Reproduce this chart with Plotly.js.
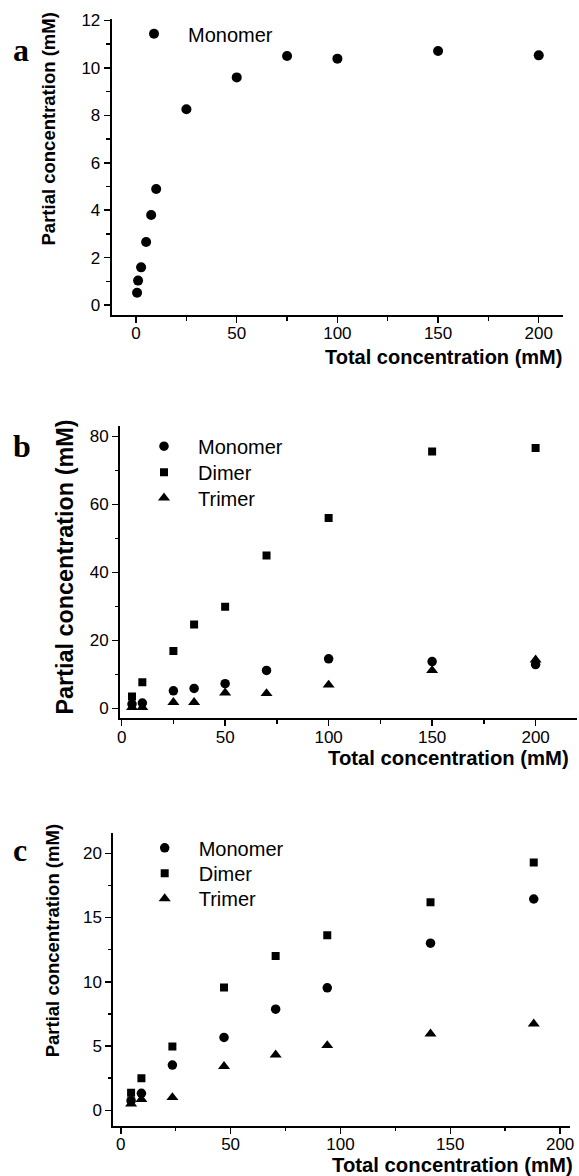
<!DOCTYPE html>
<html>
<head>
<meta charset="utf-8">
<script src="https://cdn.plot.ly/plotly-3.0.1.min.js"></script>
<style>html,body{margin:0;padding:0;background:#fff;}#chart{width:579px;height:1176px;}</style>
</head>
<body>
<div id="chart"></div>
<script>
// Panel a data
const aTotal = [0.5, 1, 2.5, 5, 7.5, 10, 25, 50, 75, 100, 150, 200];
const aMonomer = [0.52, 1.03, 1.59, 2.66, 3.80, 4.89, 8.26, 9.60, 10.50, 10.39, 10.71, 10.53];

// Panel b data
const bTotal = [5, 10, 25, 35, 50, 70, 100, 150, 200];
const bMonomer = [1.3, 1.6, 5.2, 5.9, 7.3, 11.2, 14.6, 13.8, 12.9];
const bDimer = [3.5, 7.7, 16.9, 24.7, 29.9, 45.0, 56.0, 75.6, 76.6];
const bTrimer = [0.3, 0.3, 1.8, 1.8, 4.6, 4.4, 6.9, 11.2, 14.3];

// Panel c data
const cTotal = [4.7, 9.4, 23.5, 47, 70.5, 94, 141, 188];
const cMonomer = [0.75, 1.32, 3.52, 5.67, 7.87, 9.53, 13.0, 16.44];
const cDimer = [1.37, 2.49, 4.97, 9.56, 12.01, 13.62, 16.18, 19.29];
const cTrimer = [0.5, 0.85, 1.0, 3.42, 4.32, 5.05, 5.95, 6.73];

const seriesNames = ['Monomer', 'Dimer', 'Trimer'];
const panelLetters = ['a', 'b', 'c'];
const xTitle = 'Total concentration (mM)';
const yTitle = 'Partial concentration (mM)';

const W = 579, H = 1176;
const px = v => v / W;
const py = v => 1 - v / H;

function sc(x, y, name, sym, size, xa, ya, leg) {
  return {
    type: 'scatter', mode: 'markers', x: x, y: y, name: name,
    xaxis: xa, yaxis: ya, legend: leg,
    marker: {symbol: sym, size: size, color: '#000', line: {width: 0}},
    hoverinfo: 'x+y'
  };
}

const data = [
  sc(aTotal, aMonomer, seriesNames[0], 'circle', 10, 'x', 'y', 'legend'),
  sc(bTotal, bMonomer, seriesNames[0], 'circle', 9.5, 'x2', 'y2', 'legend2'),
  sc(bTotal, bDimer, seriesNames[1], 'square', 8, 'x2', 'y2', 'legend3'),
  sc(bTotal, bTrimer, seriesNames[2], 'triangle-up', 10.5, 'x2', 'y2', 'legend4'),
  sc(cTotal, cMonomer, seriesNames[0], 'circle', 9.5, 'x3', 'y3', 'legend5'),
  sc(cTotal, cDimer, seriesNames[1], 'square', 8, 'x3', 'y3', 'legend6'),
  sc(cTotal, cTrimer, seriesNames[2], 'triangle-up', 10.5, 'x3', 'y3', 'legend7')
];

const tickFont = {family: 'Arial, Liberation Sans, sans-serif', size: 17, color: '#000'};
function ax(domain, range, dtick, minorDtick, anchor, standoff) {
  return {
    domain: domain, range: range, anchor: anchor,
    showline: true, linewidth: 2, linecolor: '#000',
    ticks: 'outside', ticklen: 6, tickwidth: 1.5, tickcolor: '#000',
    tick0: 0, dtick: dtick, ticklabelstandoff: standoff || 0,
    minor: {dtick: minorDtick, tick0: 0, ticks: 'outside', ticklen: 3.5, tickwidth: 1.5, tickcolor: '#000', showgrid: false},
    showgrid: false, zeroline: false, tickfont: tickFont, fixedrange: true
  };
}

const legFont = {family: 'Arial, Liberation Sans, sans-serif', size: 20, color: '#000'};
function leg(x, ytop) {
  return {x: px(x), y: py(ytop - 19), xanchor: 'left', yanchor: 'top', font: legFont,
    bgcolor: 'rgba(0,0,0,0)', borderwidth: 0, itemwidth: 58, tracegroupgap: 0, itemsizing: 'trace'};
}

const boldSans = s => ({family: 'Arial, Liberation Sans, sans-serif', size: s, color: '#000', weight: 'bold'});
const letterFont = {family: 'Liberation Serif, Times New Roman, serif', size: 32, color: '#000', weight: 'bold'};

function ann(text, x, y, xanchor, yanchor, font, angle) {
  return {text: text, xref: 'paper', yref: 'paper', x: x, y: y, xanchor: xanchor, yanchor: yanchor,
    showarrow: false, font: font, textangle: angle || 0};
}

const layout = {
  width: W, height: H,
  margin: {l: 0, r: 0, t: 0, b: 0, pad: 0},
  paper_bgcolor: '#fff', plot_bgcolor: '#fff',
  showlegend: true,
  xaxis: ax([px(111.7), px(563.3)], [-12.1, 212.2], 50, 25, 'y', -4),
  yaxis: ax([py(315), py(19.3)], [-0.42, 12.05], 2, 1, 'x'),
  xaxis2: ax([px(120), px(577)], [-0.8, 220], 50, 25, 'y2', -4),
  yaxis2: ax([py(718.3), py(426)], [-2.9, 83.1], 20, 10, 'x2'),
  xaxis3: ax([px(113.3), px(570)], [-3.4, 204.5], 50, 25, 'y3', -4),
  yaxis3: ax([py(1125.7), py(832.7)], [-1.2, 21.6], 5, 2.5, 'x3'),
  legend: leg(120, 33.3),
  legend2: leg(130, 445.7),
  legend3: leg(130, 471.7),
  legend4: leg(130, 497.3),
  legend5: leg(130.7, 847.3),
  legend6: leg(130.7, 872.7),
  legend7: leg(130.7, 898),
  annotations: [
    ann(panelLetters[0], px(11), py(50), 'left', 'middle', letterFont),
    ann(panelLetters[1], px(11), py(446), 'left', 'middle', letterFont),
    ann(panelLetters[2], px(11), py(850), 'left', 'middle', letterFont),
    ann(yTitle, px(47.5), py(129), 'center', 'middle', boldSans(18.5), -90),
    ann(yTitle, px(64), py(567.5), 'center', 'middle', boldSans(23.4), -90),
    ann(yTitle, px(52.5), py(940.8), 'center', 'middle', boldSans(18.5), -90),
    ann(xTitle, px(564), py(357), 'right', 'middle', boldSans(20)),
    ann(xTitle, px(571), py(758), 'right', 'middle', boldSans(20.3)),
    ann(xTitle, px(575), py(1165), 'right', 'middle', boldSans(20.3))
  ]
};

Plotly.newPlot('chart', data, layout, {displayModeBar: false, staticPlot: true});
</script>
</body>
</html>
